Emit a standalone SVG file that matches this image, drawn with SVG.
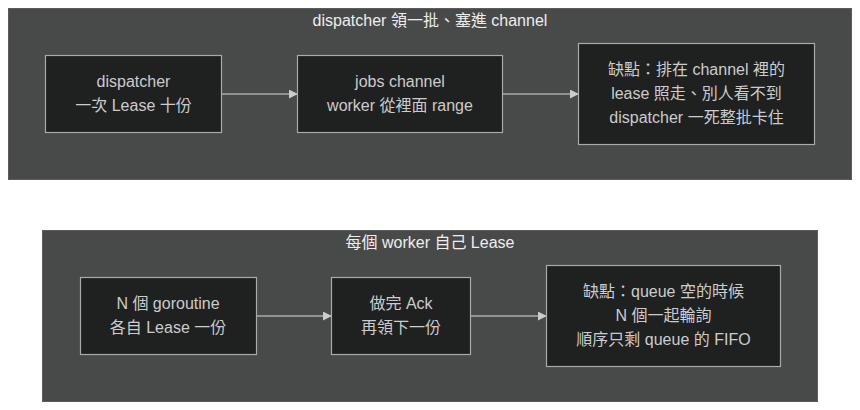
<svg xmlns="http://www.w3.org/2000/svg" width="860" height="410" viewBox="0 0 860 410">
<defs>
<style>
.cluster{fill:#484949;stroke:#5c5c5c;stroke-width:1}
.node rect{fill:#1f2020;stroke:#aaaaaa;stroke-width:1.2}
text{font-family:"Liberation Sans","Noto Sans CJK TC",sans-serif;font-size:16px;text-anchor:middle}
.node text{fill:#cccccc}
.title{fill:#eeeeee}
.edge{stroke:#aaaaaa;stroke-width:1.5;fill:none;marker-end:url(#arr)}
</style>
<marker id="arr" viewBox="0 0 10 10" refX="9" refY="5" markerWidth="6" markerHeight="6" orient="auto" markerUnits="strokeWidth">
<path d="M0,0 L10,5 L0,10 z" fill="#cccccc"/>
</marker>
</defs>
<rect width="860" height="410" fill="#ffffff"/>
<g id="cluster1">
<rect class="cluster" x="8.5" y="8.5" width="843" height="171"/>
<text class="title" x="430" y="25.5">dispatcher 領一批、塞進 channel</text>
</g>
<g id="cluster2">
<rect class="cluster" x="42.5" y="230.5" width="775" height="171"/>
<text class="title" x="430" y="247.5">每個 worker 自己 Lease</text>
</g>
<g id="connectors">
<path class="edge" d="M222,94 L297,94"/>
<path class="edge" d="M503,94 L578,94"/>
<path class="edge" d="M257,316 L331,316"/>
<path class="edge" d="M471,316 L546,316"/>
</g>
<g id="nodeA" class="node">
<rect x="45.5" y="55.5" width="176" height="77"/>
<text x="133.5" y="86.5">dispatcher</text>
<text x="133.5" y="110.5">一次 Lease 十份</text>
</g>
<g id="nodeB" class="node">
<rect x="297.5" y="55.5" width="205" height="77"/>
<text x="400" y="86.5">jobs channel</text>
<text x="400" y="110.5">worker 從裡面 range</text>
</g>
<g id="nodeC" class="node">
<rect x="578.5" y="43.5" width="236" height="101"/>
<text x="696.5" y="74.5">缺點：排在 channel 裡的</text>
<text x="696.5" y="98.5">lease 照走、別人看不到</text>
<text x="696.5" y="122.5">dispatcher 一死整批卡住</text>
</g>
<g id="nodeD" class="node">
<rect x="80.5" y="277.5" width="176" height="77"/>
<text x="168" y="308.5">N 個 goroutine</text>
<text x="168" y="332.5">各自 Lease 一份</text>
</g>
<g id="nodeE" class="node">
<rect x="331.5" y="277.5" width="139" height="77"/>
<text x="401" y="308.5">做完 Ack</text>
<text x="401" y="332.5">再領下一份</text>
</g>
<g id="nodeF" class="node">
<rect x="546.5" y="265.5" width="234" height="101"/>
<text x="663.5" y="296.5">缺點：queue 空的時候</text>
<text x="663.5" y="320.5">N 個一起輪詢</text>
<text x="663.5" y="344.5">順序只剩 queue 的 FIFO</text>
</g>
</svg>
